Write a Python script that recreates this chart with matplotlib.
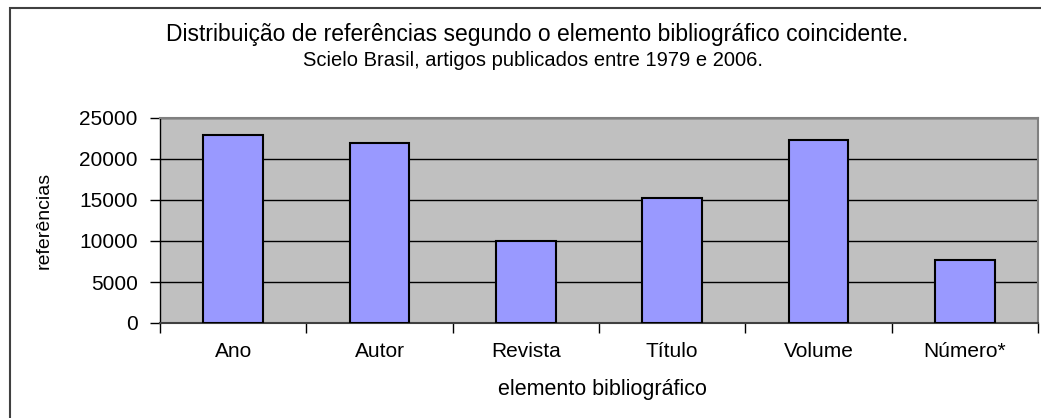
import matplotlib
matplotlib.use("Agg")
import matplotlib.pyplot as plt
from matplotlib.patches import Rectangle
import numpy as np

categories = ["Ano", "Autor", "Revista", "Título", "Volume", "Número*"]
values = [22900, 21900, 10000, 15200, 22300, 7700]
yticks = [0, 5000, 10000, 15000, 20000, 25000]

plt.rcParams['font.family'] = ['Liberation Sans', 'DejaVu Sans']

fig = plt.figure(figsize=(10.41, 4.18), dpi=100)
fig.patch.set_facecolor('white')
# outer chart border
fig.patches.append(Rectangle((10/1041, -0.1), 1.2, 1 - 8/418 + 0.1, transform=fig.transFigure,
                             fill=False, edgecolor='#404040', linewidth=1.5))

ax = fig.add_axes([160/1041, 1 - 323/418, (1038 - 160)/1041, (323 - 118)/418])
ax.set_facecolor('#C0C0C0')
x = np.arange(len(categories))
ax.bar(x, values, width=0.41, color='#9999FF', edgecolor='black', linewidth=1.5, zorder=3)
ax.set_xlim(-0.5, len(categories) - 0.5)
ax.set_ylim(0, 25000)
ax.set_yticks(yticks)
ax.set_yticklabels([str(v) for v in yticks], fontsize=15)
ax.set_xticks(x)
ax.set_xticklabels(categories, fontsize=15)
ax.tick_params(axis='x', which='major', length=0, pad=14)
ax.set_xticks(np.arange(len(categories) + 1) - 0.5, minor=True)
ax.tick_params(axis='x', which='minor', length=7, width=1, color='black', direction='out')
ax.tick_params(axis='y', length=7, width=1, color='black', direction='out', pad=9)
ax.yaxis.grid(True, color='black', linewidth=1, zorder=1)
ax.set_axisbelow(True)
for s in ['top', 'right']:
    ax.spines[s].set_color('#808080')
    ax.spines[s].set_linewidth(1.5)
ax.spines['left'].set_color('black')
ax.spines['left'].set_linewidth(1)
ax.spines['bottom'].set_color('#404040')
ax.spines['bottom'].set_linewidth(1.5)

ax.set_ylabel('referências', fontsize=14)
ax.yaxis.label.set_va('center')
ax.yaxis.set_label_coords((44 - 160)/(1038 - 160), 0.5)
ax.set_xlabel('elemento bibliográfico', fontsize=15.5)
ax.xaxis.label.set_va('center')
ax.xaxis.set_label_coords((602 - 160)/(1038 - 160), -(389 - 323)/(323 - 118))

fig.text(537/1041, 1 - 35/418, 'Distribuição de referências segundo o elemento bibliográfico coincidente.',
         ha='center', va='center', fontsize=16.5)
fig.text(533/1041, 1 - 60/418, 'Scielo Brasil, artigos publicados entre 1979 e 2006.',
         ha='center', va='center', fontsize=14.5)

fig.savefig('out.png', dpi=100)
